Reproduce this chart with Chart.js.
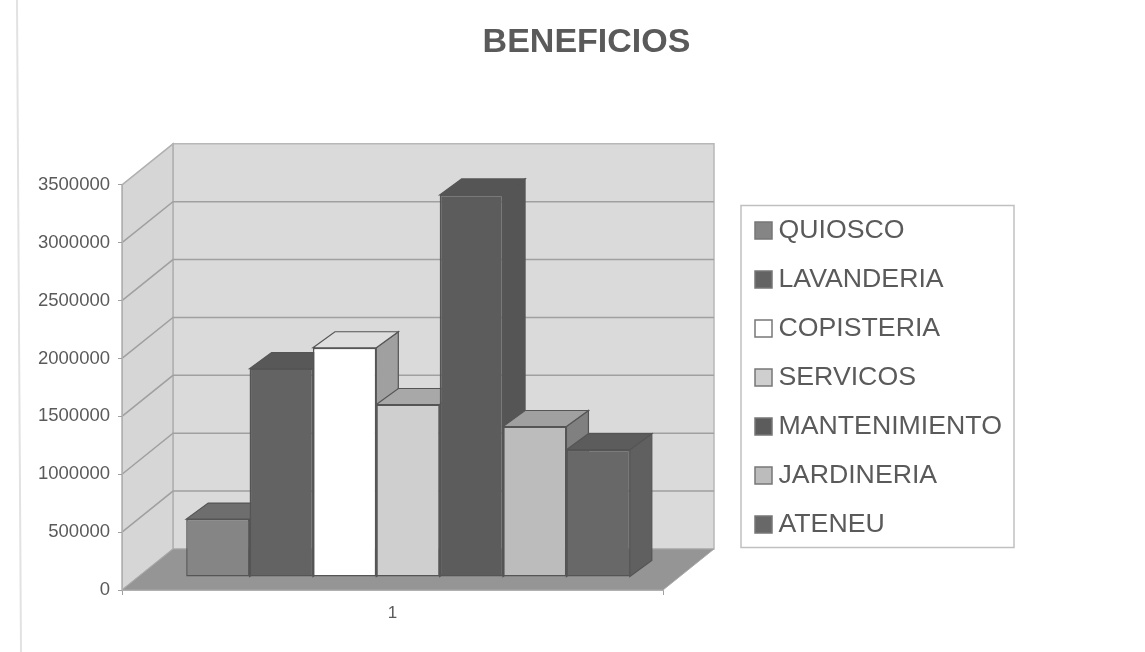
<!DOCTYPE html>
<html>
<head>
<meta charset="utf-8">
<title>Beneficios</title>
<style>
  html, body { margin: 0; background: #fff; }
  canvas { display: block; }
</style>
<script src="https://cdn.jsdelivr.net/npm/chart.js@4"></script>
</head>
<body>
<canvas id="chart" width="1145" height="652"></canvas>
<script>
// data
const categories = ['1'];
const seriesNames = ['QUIOSCO', 'LAVANDERIA', 'COPISTERIA', 'SERVICOS', 'MANTENIMIENTO', 'JARDINERIA', 'ATENEU'];
const seriesValues = [500000, 1800000, 1980000, 1490000, 3300000, 1300000, 1100000];
const yMax = 3500000;
const yStep = 500000;

// face colours per series
const frontColors = ['#858585', '#636363', '#ffffff', '#cfcfcf', '#5c5c5c', '#bcbcbc', '#686868'];
const topColors   = ['#6e6e6e', '#585858', '#dedede', '#a8a8a8', '#555555', '#a0a0a0', '#5c5c5c'];
const sideColors  = ['#6a6a6a', '#505050', '#a0a0a0', '#8c8c8c', '#555555', '#808080', '#606060'];

const textColor = '#5a5a5a';
const edgeColor = '#555555';
const fontFamily = '"Liberation Sans", Arial, sans-serif';

// 3d box params [px]
const wall = { dx: 51, dy: -41 };     // depth of the plot box
const barShift = { dx: 15.5, dy: -13 }; // bars stand inside the floor
const barDepth = { dx: 22, dy: -16 };

function poly(ctx, pts, fill, stroke, lw) {
  ctx.beginPath();
  pts.forEach((p, i) => i ? ctx.lineTo(p[0], p[1]) : ctx.moveTo(p[0], p[1]));
  ctx.closePath();
  if (fill) { ctx.fillStyle = fill; ctx.fill(); }
  if (stroke) { ctx.strokeStyle = stroke; ctx.lineWidth = lw || 1; ctx.stroke(); }
}

const box3d = {
  id: 'box3d',

  // title is centred on the whole page, not on the plot
  afterLayout(chart) {
    chart.titleBlock.left = 28;
    chart.titleBlock.right = chart.width;
  },

  // walls, floor and gridlines
  beforeDraw(chart) {
    const { ctx, chartArea: a, scales: { y } } = chart;
    const { dx, dy } = wall;
    ctx.save();

    // scanner edge on the left of the sheet
    ctx.strokeStyle = '#e2e2e2';
    ctx.lineWidth = 2;
    ctx.beginPath();
    ctx.moveTo(17, 0);
    ctx.lineTo(21, chart.height);
    ctx.stroke();

    poly(ctx, [[a.left + dx, a.top + dy], [a.right + dx, a.top + dy], [a.right + dx, a.bottom + dy], [a.left + dx, a.bottom + dy]], '#dadada', '#b8b8b8', 1.5);
    poly(ctx, [[a.left, a.top], [a.left + dx, a.top + dy], [a.left + dx, a.bottom + dy], [a.left, a.bottom]], '#d6d6d6', '#b0b0b0', 1.5);
    poly(ctx, [[a.left, a.bottom], [a.right, a.bottom], [a.right + dx, a.bottom + dy], [a.left + dx, a.bottom + dy]], '#959595', '#a8a8a8', 1);

    ctx.strokeStyle = '#a0a0a0';
    ctx.lineWidth = 1.5;
    y.ticks.forEach(t => {
      if (t.value === 0 || t.value === yMax) return;
      const py = y.getPixelForValue(t.value);
      ctx.beginPath();
      ctx.moveTo(a.left, py);
      ctx.lineTo(a.left + dx, py + dy);
      ctx.lineTo(a.right + dx, py + dy);
      ctx.stroke();
    });
    ctx.restore();
  },

  // side and top of each bar, left to right, then shift for the native fronts
  beforeDatasetsDraw(chart) {
    const { ctx } = chart;
    const { dx, dy } = barDepth;
    ctx.save();
    ctx.translate(barShift.dx, barShift.dy);
    seriesNames.forEach((name, i) => {
      const b = chart.getDatasetMeta(i).data[0].getProps(['x', 'y', 'base', 'width'], true);
      const l = b.x - b.width / 2, r = b.x + b.width / 2;
      poly(ctx, [[r, b.y], [r + dx, b.y + dy], [r + dx, b.base + dy], [r, b.base]], sideColors[i], edgeColor, 1.2);
      poly(ctx, [[l, b.y], [l + dx, b.y + dy], [r + dx, b.y + dy], [r, b.y]], topColors[i], edgeColor, 1.2);
    });
  },

  afterDatasetsDraw(chart) {
    chart.ctx.restore();
  },

  // legend frame with its swatches and names
  afterDraw(chart) {
    const { ctx } = chart;
    ctx.save();
    ctx.strokeStyle = '#c0c0c0';
    ctx.lineWidth = 1.5;
    ctx.strokeRect(741, 205.5, 273, 342);
    ctx.font = '26.7px ' + fontFamily;
    ctx.textBaseline = 'middle';
    seriesNames.forEach((name, i) => {
      const cy = 230 + i * 49;
      ctx.fillStyle = frontColors[i];
      ctx.fillRect(755, cy - 8, 17, 17);
      ctx.strokeStyle = '#777777';
      ctx.lineWidth = 1.5;
      ctx.strokeRect(755, cy - 8, 17, 17);
      ctx.fillStyle = textColor;
      ctx.fillText(name, 778.5, cy + 1);
    });
    ctx.restore();
  }
};

const datasets = seriesNames.map((name, i) => ({
  label: name,
  data: [seriesValues[i]],
  backgroundColor: frontColors[i],
  borderColor: edgeColor,
  borderWidth: 1.5,
  borderSkipped: false,
  categoryPercentage: 0.82,
  barPercentage: 1
}));

new Chart(document.getElementById('chart'), {
  type: 'bar',
  data: { labels: categories, datasets: datasets },
  plugins: [box3d],
  options: {
    responsive: false,
    animation: false,
    layout: { padding: { left: 0, right: 482, top: 0, bottom: 30 } },
    plugins: {
      legend: { display: false },
      tooltip: { enabled: false },
      title: {
        display: true,
        text: 'BENEFICIOS',
        color: textColor,
        font: { family: fontFamily, size: 34, weight: 'bold' },
        padding: { top: 22, bottom: 122 }
      }
    },
    scales: {
      x: {
        afterFit(scale) { scale.height = 32; },
        grid: { offset: true, drawOnChartArea: false, tickLength: 5, color: '#a0a0a0' },
        border: { color: '#b0b0b0' },
        ticks: { color: textColor, padding: 8, font: { family: fontFamily, size: 17 } }
      },
      y: {
        min: 0,
        max: yMax,
        afterFit(scale) { scale.width = 122; },
        grid: { drawOnChartArea: false, tickLength: 4, color: '#a0a0a0' },
        border: { color: '#b0b0b0' },
        ticks: {
          stepSize: yStep,
          color: textColor,
          padding: 8,
          font: { family: fontFamily, size: 18.5 },
          callback: v => String(v)
        }
      }
    }
  }
});
</script>
</body>
</html>
